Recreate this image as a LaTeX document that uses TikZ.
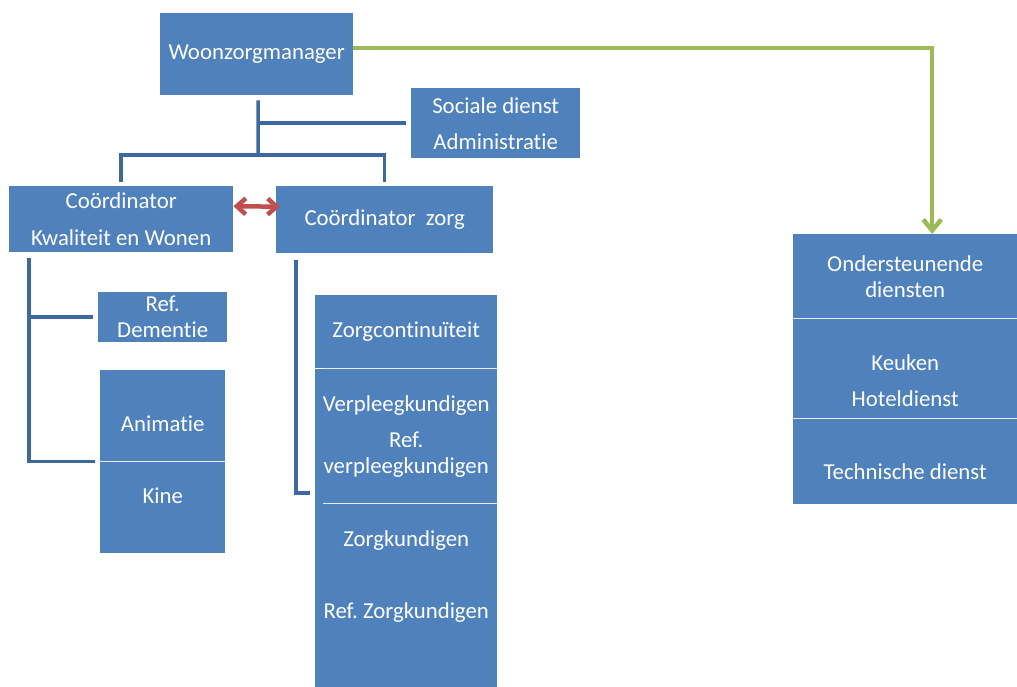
\documentclass[tikz,border=0pt]{standalone}
\usepackage{fontspec}
\setmainfont{Carlito}[Ligatures=NoCommon]
\usepackage{tikz}
\usetikzlibrary{arrows.meta}
\usetikzlibrary{positioning}
\definecolor{boxblue}{RGB}{79,129,189}
\definecolor{lineblue}{RGB}{62,104,160}
\definecolor{arrowred}{RGB}{192,80,77}
\definecolor{arrowgreen}{RGB}{155,187,89}

\begin{document}
\begin{tikzpicture}[x=1pt,y=-1pt,node distance=0pt]
\tikzstyle{box}=[rectangle,fill=boxblue,text=white,inner sep=0pt,align=center,anchor=north west,font=\fontsize{22.8}{26}\selectfont\frenchspacing]
\tikzstyle{conn}=[draw=lineblue,line width=3.5pt]
\tikzstyle{divider}=[draw=white!85!boxblue,line width=1.2pt]
\useasboundingbox (0,0) rectangle (1017,686);
\node[box, minimum width=193pt, minimum height=82pt]	(woon)	at (160,13)	{Woonzorgmanager};
\node[box, minimum width=169pt, minimum height=70pt]	(sociaal)	at (411,88)	{Sociale dienst\\[10pt]Administratie};
\node[box, minimum width=224pt, minimum height=66pt]	(kwal)	at (9,186)	{Coördinator\\[11pt]Kwaliteit en Wonen};
\node[box, minimum width=217pt, minimum height=67pt]	(zorg)	at (276,186)	{Coördinator\ \ zorg};
\node[box, minimum width=129pt, minimum height=50pt]	(dementie)	at (98,292)	{Ref.\\Dementie};
\node[box, minimum width=125pt, minimum height=91pt, text height=31pt, text depth=0pt]	(animatie)	at (100,370)	{Animatie};
\node[box, minimum width=125pt, minimum height=91pt, text height=13pt, text depth=20pt]	(kine)	[below = of animatie]	{Kine};
\node[box, minimum width=182pt, minimum height=73pt]	(zcont)	at (315,295)	{Zorgcontinuïteit};
\node[box, minimum width=182pt, minimum height=135pt]	(verpleeg)	[below = of zcont]	{Verpleegkundigen\\[10pt]Ref.\\verpleegkundigen};
\node[box, minimum width=182pt, minimum height=183pt, text depth=42pt]	(zkund)	[below = of verpleeg]	{Zorgkundigen\\[46pt]Ref. Zorgkundigen};
\node[box, minimum width=224pt, minimum height=84pt]	(ond)	at (793,234)	{Ondersteunende\\diensten};
\node[box, minimum width=224pt, minimum height=100pt, text height=76pt, text depth=0pt]	(keuken)	[below = of ond]	{Keuken\\[10pt]Hoteldienst};
\node[box, minimum width=224pt, minimum height=85pt, text height=35pt, text depth=0pt]	(techn)	[below = of keuken]	{Technische dienst};
% white lines between the parts of a column
\draw[divider] (animatie.south west) -- (animatie.south east);
\draw[divider] ([xshift=8pt]zcont.south west) -- (zcont.south east);
\draw[divider] ([xshift=8pt]verpleeg.south west) -- (verpleeg.south east);
\draw[divider] (ond.south west) -- (ond.south east);
\draw[divider] (keuken.south west) -- (keuken.south east);
% hierarchy lines
\coordinate (hub) at (258,155);
\draw[conn] ([xshift=1.5pt,yshift=-5pt]woon.south) -- (hub);
\draw[conn] ([xshift=-5pt]sociaal.west) -- (sociaal.west -| hub);
\draw[conn] ([yshift=4pt]kwal.north) |- (hub) -| ([yshift=4pt]zorg.north);
\draw[conn] ([shift={(20pt,-6pt)}]kwal.south west) |- ([xshift=-5pt]kine.north west);
\draw[conn] ([xshift=20pt]kwal.south west |- dementie.west) -- ([xshift=-5pt]dementie.west);
\draw[conn] ([shift={(20pt,-7pt)}]zorg.south west) |- ([shift={(-5pt,11pt)}]verpleeg.south west);
% arrows
\draw[arrowred, line width=4.5pt, {Straight Barb[length=9pt,width=16pt]}-{Straight Barb[length=9pt,width=16pt]}] ([yshift=13pt]kwal.east) -- ([shift={(4pt,13pt)}]zorg.west);
\draw[arrowgreen, line width=4.5pt, -{Straight Barb[length=11pt,width=18pt]}] ([yshift=6pt]woon.east) -| ([xshift=27pt]ond.north);
\end{tikzpicture}
\end{document}
